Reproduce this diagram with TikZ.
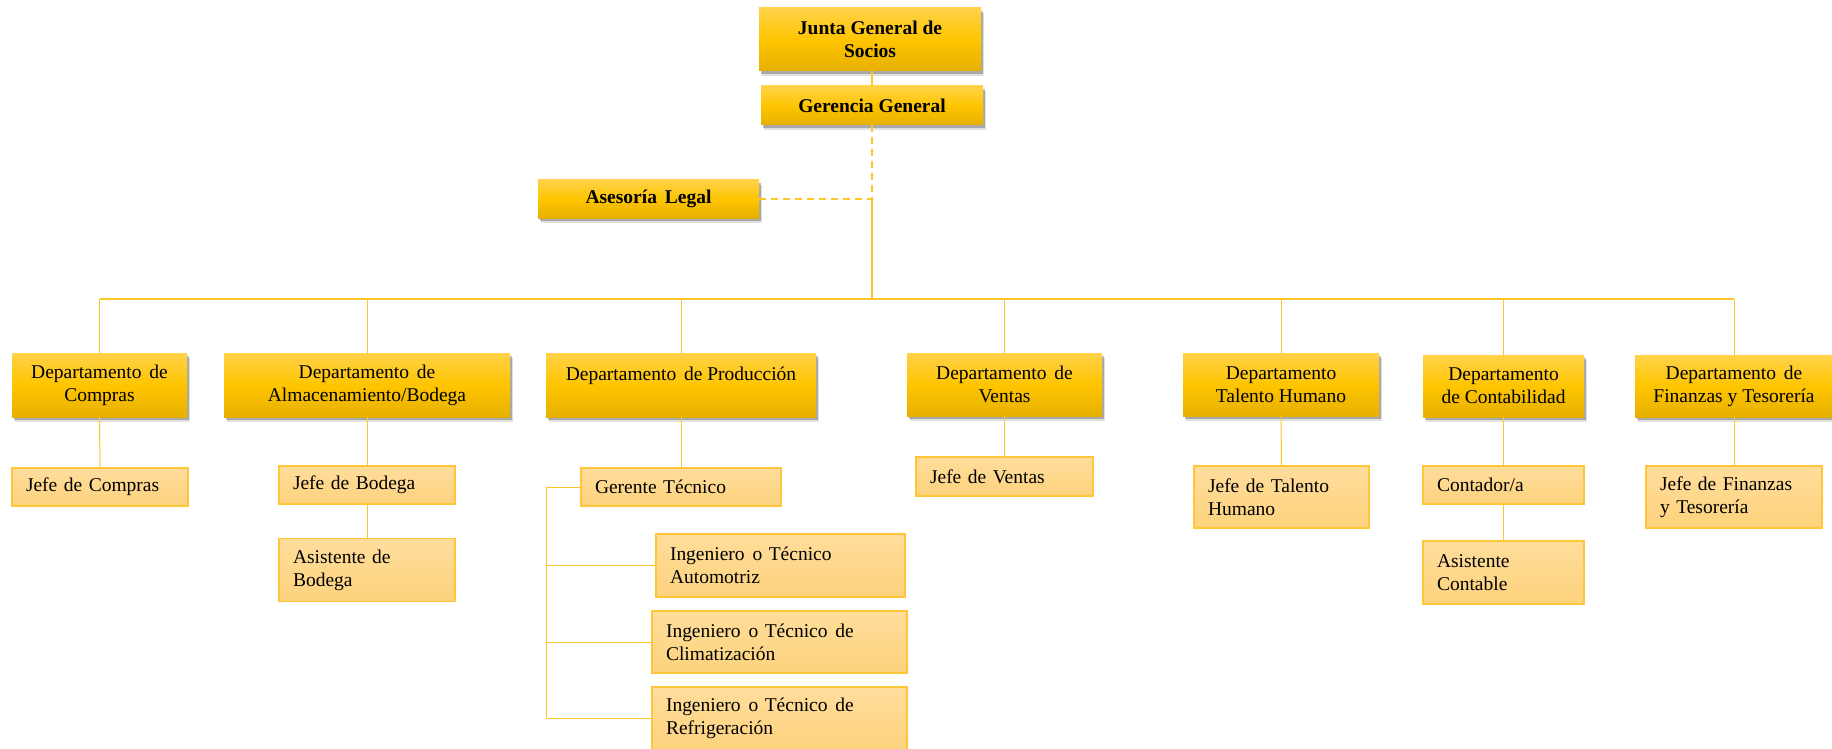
\documentclass[tikz,border=0pt]{standalone}
\usepackage{fontspec}
\setmainfont{Liberation Serif}
\usetikzlibrary{shadows}
\definecolor{goldT}{HTML}{FFD24A}
\definecolor{goldM}{HTML}{FFC500}
\definecolor{goldB}{HTML}{E6B000}
\definecolor{subT}{HTML}{FFDD9C}
\definecolor{subBt}{HTML}{FDD27C}
\definecolor{subLine}{HTML}{FFC63A}
\definecolor{conn}{HTML}{FFC629}
\newcommand\ws{\hspace{0.4em}}
\tikzset{
  gold/.style={rectangle, inner sep=0pt, top color=goldT, bottom color=goldB, middle color=goldM,
    drop shadow={shadow xshift=2pt, shadow yshift=-3pt, opacity=0.25, fill=black},
    drop shadow={shadow xshift=3pt, shadow yshift=-5pt, opacity=0.12, fill=black},
    align=center, font=\fontsize{19.5}{23}\selectfont},
  topbox/.style={gold, font=\fontsize{19.5}{23}\selectfont\bfseries},
  dept/.style={gold},
  sub/.style={rectangle, draw=subLine, line width=1.3pt, top color=subT, bottom color=subBt,
    inner xsep=14pt, inner ysep=0pt, align=left, font=\fontsize{19.5}{23}\selectfont},
  thinline/.style={draw=conn, line width=1pt},
  thickline/.style={draw=conn, line width=2pt},
  dashline/.style={draw=conn, line width=2pt, dash pattern=on 7pt off 5pt}
}
\begin{document}
\begin{tikzpicture}[x=1pt,y=-1pt]
\useasboundingbox (0,0) rectangle (1832,749);
% top level
\node[topbox, minimum width=222pt, minimum height=63pt] (junta) at (870,39.5) {Junta General de\\Socios};
\node[topbox, minimum width=222pt, minimum height=39pt] (ger) at (872,105.5) {Gerencia General};
\node[topbox, minimum width=221pt, minimum height=38pt] (ase) at (648.5,199) {Asesoría\ws Legal};
% departments
\node[dept, minimum width=175pt, minimum height=64pt] (d1) at (99.5,385) {Departamento\ws de\\Compras};
\node[dept, minimum width=286pt, minimum height=64pt] (d2) at (367,385) {Departamento\ws de\\Almacenamiento/Bodega};
\node[dept, minimum width=270pt, minimum height=64pt] (d3) at (681,385) {Departamento\ws de Producción\\\mbox{}};
\node[dept, minimum width=195pt, minimum height=63pt] (d4) at (1004.5,384.5) {Departamento\ws de\\Ventas};
\node[dept, minimum width=196pt, minimum height=63pt] (d5) at (1281,384.5) {Departamento\\Talento Humano};
\node[dept, minimum width=161pt, minimum height=62pt] (d6) at (1503.5,386) {Departamento\\de Contabilidad};
\node[dept, minimum width=198pt, minimum height=62pt] (d7) at (1734,386) {Departamento\ws de\\Finanzas y Tesorería};
% sub boxes
\node[sub, text width=148pt, minimum height=38pt] (s1) at (100,487) {Jefe de Compras};
\node[sub, text width=148pt, minimum height=38pt] (s2) at (367,485) {Jefe de Bodega};
\node[sub, text width=148pt, minimum height=63pt] (s3) at (367,570) {Asistente de\\Bodega};
\node[sub, text width=172pt, minimum height=38pt] (s4) at (681,487) {Gerente Técnico};
\node[sub, text width=221pt, minimum height=63pt] (s5) at (780.5,565.5) {Ingeniero\ws o Técnico\\Automotriz};
\node[sub, text width=227pt, minimum height=62pt] (s6) at (779.5,642) {Ingeniero\ws o Técnico\ws de\\Climatización};
\node[sub, text width=227pt, minimum height=63pt] (s7) at (779.5,718.5) {Ingeniero\ws o Técnico\ws de\\Refrigeración};
\node[sub, text width=149pt, minimum height=39pt] (s8) at (1004.5,476.5) {Jefe de Ventas};
\node[sub, text width=147pt, minimum height=62pt] (s9) at (1281.5,497) {Jefe de Talento\\Humano};
\node[sub, text width=133pt, minimum height=38pt] (s10) at (1503.5,485) {Contador/a};
\node[sub, text width=133pt, minimum height=63pt] (s11) at (1503.5,572.5) {Asistente\\Contable};
\node[sub, text width=148pt, minimum height=62pt] (s12) at (1734,497) {Jefe de Finanzas\\y Tesorería};
% coordinates
\coordinate (legal) at (872,199);
\coordinate (bus) at (872,299);
\coordinate (bl) at (546,487);
% main spine
\draw[thickline] (junta.south -| ger.north) -- (ger.north);
\draw[dashline] (ger.south) -- (legal);
\draw[dashline] (ase.east) -- (legal);
\draw[thickline] (legal) -- (bus);
% bus
\draw[thickline, line width=1.6pt] (d1.north |- bus) -- (d7.north |- bus);
\foreach \d in {d1,d2,d3,d4,d5,d6,d7}{
  \draw[thinline] (\d.north |- bus) -- (\d.north);
}
% dept to sub
\draw[thinline] (d1.south) -- (s1.north);
\draw[thinline] (d2.south) -- (s2.north);
\draw[thinline] (s2.south) -- (s3.north);
\draw[thinline] (d3.south) -- (s4.north);
\draw[thinline] (d4.south) -- (s8.north);
\draw[thinline] (d5.south) -- (s9.north);
\draw[thinline] (d6.south) -- (s10.north);
\draw[thinline] (s10.south) -- (s11.north);
\draw[thinline] (d7.south) -- (s12.north);
% production bracket
\draw[thinline] (s4.west) -- (bl) |- (s7.west);
\draw[thinline] (bl |- s5.west) -- (s5.west);
\draw[thinline] (bl |- s6.west) -- (s6.west);
\end{tikzpicture}
\end{document}
